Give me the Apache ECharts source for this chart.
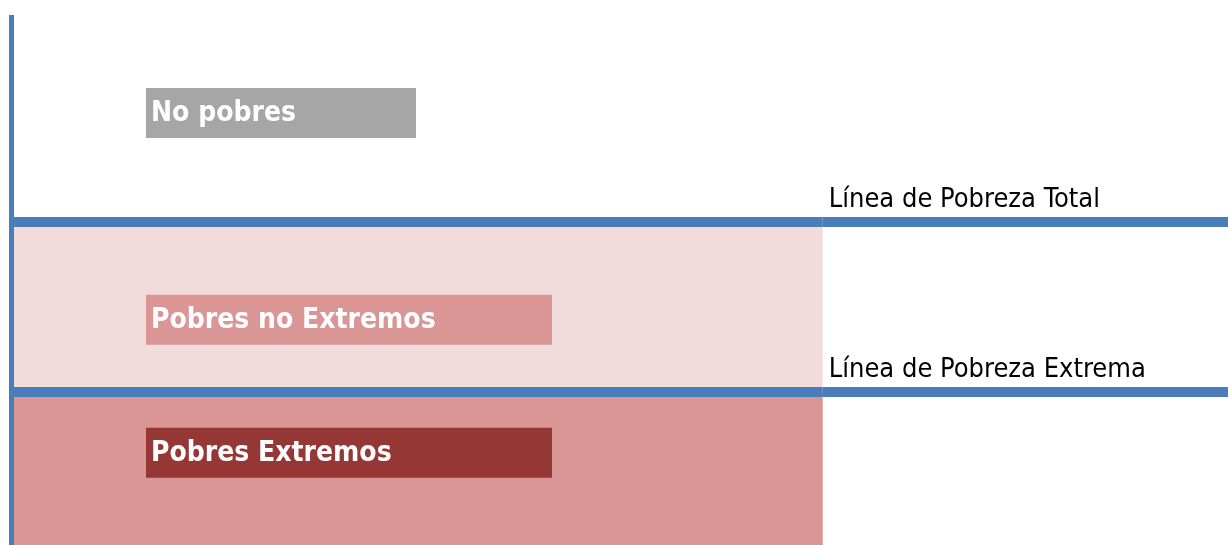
<!DOCTYPE html>
<html>
<head>
<meta charset="utf-8">
<script src="https://cdn.jsdelivr.net/npm/echarts@6/dist/echarts.min.js"></script>
<style>
  body { margin: 0; background: #fff; }
  #main { width: 1228px; height: 545px; }
</style>
</head>
<body>
<div id="main"></div>
<script>
// umbrales (escala 0-100 del eje vertical)
var lineNames = ['Línea de Pobreza Extrema', 'Línea de Pobreza Total'];
var lineValues = [28.9, 61];
// grupos de abajo hacia arriba
var groupNames = ['Pobres Extremos', 'Pobres no Extremos', 'No pobres'];
var shadeEnd = 66.7;   // hasta donde llega el sombreado en el eje x
var axisMax = 100;

var blue = '#4A7EBB';
var narrow = '"Liberation Sans Narrow", "Arial Narrow", "DejaVu Sans Condensed", sans-serif';

function boxLabel(text, bg, w, pos) {
    return {
        show: true,
        formatter: text,
        position: pos,
        align: 'left',
        verticalAlign: 'top',
        color: '#fff',
        fontFamily: narrow,
        fontWeight: 'bold',
        fontSize: 28,
        backgroundColor: bg,
        width: w - 5,
        height: 50,
        lineHeight: 52,
        padding: [0, 0, 0, 5]
    };
}

var areas = [
    [{ coord: [0, 0], itemStyle: { color: '#D99694' },
       label: boxLabel(groupNames[0], '#953735', 406, [135, 36]) },
     { coord: [shadeEnd, lineValues[0]] }],
    [{ coord: [0, lineValues[0]], itemStyle: { color: '#F2DCDB' },
       label: boxLabel(groupNames[1], '#D99694', 406, [135, 73]) },
     { coord: [shadeEnd, lineValues[1]] }],
    [{ coord: [0, lineValues[1]], itemStyle: { color: 'rgba(0,0,0,0)' },
       label: boxLabel(groupNames[2], '#A6A6A6', 270, [135, 73]) },
     { coord: [axisMax, axisMax] }]
];

var lines = [];
for (var i = 0; i < lineValues.length; i++) {
    // tramo izquierdo sin texto
    lines.push([{ coord: [0, lineValues[i]], label: { show: false } },
                { coord: [shadeEnd, lineValues[i]] }]);
    // tramo derecho con el nombre de la linea
    lines.push([{ coord: [shadeEnd, lineValues[i]],
                  label: {
                      show: true,
                      formatter: lineNames[i],
                      position: 'insideStartTop',
                      distance: [6, 8],
                      color: '#000',
                      fontFamily: narrow,
                      fontSize: 27
                  } },
                { coord: [axisMax, lineValues[i]] }]);
}

var myChart = echarts.init(document.getElementById('main'));
var options = {
    animation: false,
    grid: { left: 11, right: 0, top: 15, bottom: 0 },
    xAxis: {
        type: 'value', min: 0, max: axisMax, show: false
    },
    yAxis: {
        type: 'value', min: 0, max: axisMax,
        z: 10,
        axisLine: { show: true, lineStyle: { color: blue, width: 5, cap: 'butt' } },
        axisTick: { show: false },
        axisLabel: { show: false },
        splitLine: { show: false }
    },
    series: [{
        type: 'line',
        data: [],
        silent: true,
        markArea: {
            silent: true,
            z: 1,
            data: areas
        },
        markLine: {
            silent: true,
            z: 3,
            symbol: 'none',
            lineStyle: { color: blue, width: 10, type: 'solid' },
            data: lines
        }
    }]
};
myChart.setOption(options);
</script>
</body>
</html>
